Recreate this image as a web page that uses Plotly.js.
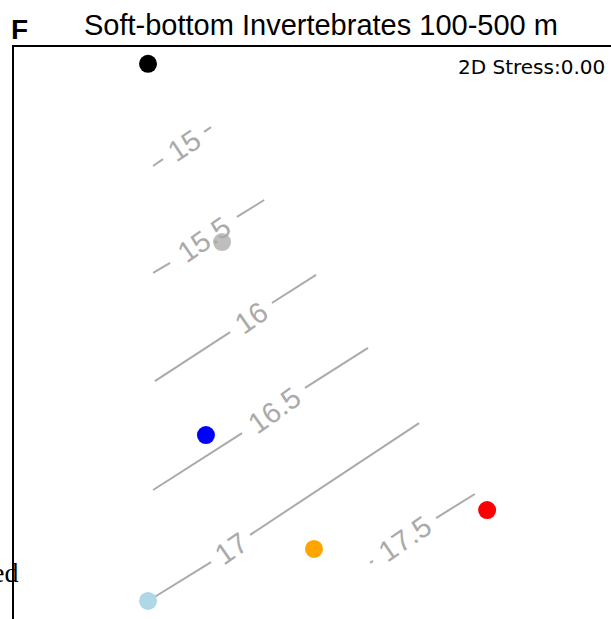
<!DOCTYPE html>
<html>
<head>
<meta charset="utf-8">
<script src="https://cdn.plot.ly/plotly-3.0.1.min.js"></script>
<style>html,body{margin:0;padding:0;background:#fff;}#chart{width:611px;height:619px;}</style>
</head>
<body>
<div id="chart"></div>
<script>
// Site scores (NMDS1, NMDS2) and colours
const siteColors = ['black', '#bebebe', 'blue', '#add8e6', '#ffa500', 'red'];
const siteX = [-0.551, -0.303, -0.357, -0.551, 0.005, 0.585];
const siteY = [0.941, 0.318, -0.357, -0.937, -0.755, -0.619];

// Fitted surface contours (ordisurf), each drawn as start -> gap -> end
const contourLevels = ['15', '15.5', '16', '16.5', '17', '17.5'];
const startX = [-0.534, -0.534, -0.528, -0.534, -0.551, 0.193];
const startY = [0.584, 0.210, -0.168, -0.549, -0.937, -0.804];
const gapStartX = [-0.501, -0.477, -0.276, -0.236, -0.340, 0.203];
const gapStartY = [0.608, 0.245, 0.003, -0.350, -0.801, -0.797];
const gapEndX = [-0.363, -0.253, -0.136, -0.025, -0.209, 0.414];
const gapEndY = [0.703, 0.406, 0.105, -0.192, -0.706, -0.647];
const endX = [-0.340, -0.162, 0.012, 0.186, 0.357, 0.544];
const endY = [0.720, 0.465, 0.203, -0.052, -0.315, -0.563];

const titleText = 'Soft-bottom Invertebrates 100-500 m';
const stressText = '2D Stress:0.00';

const lineColor = '#aaaaaa';
const xr = [-1, 1], yr = [-1, 1];
const W = 611, H = 619;
const m = {l: 14, r: 0, t: 47, b: 0};

const traces = [];
const cx = [], cy = [];
for (let i = 0; i < contourLevels.length; i++) {
  cx.push(startX[i], gapStartX[i], null, gapEndX[i], endX[i], null);
  cy.push(startY[i], gapStartY[i], null, gapEndY[i], endY[i], null);
}
traces.push({type: 'scatter', mode: 'lines', x: cx, y: cy,
  line: {color: lineColor, width: 2}, hoverinfo: 'skip', showlegend: false});
traces.push({type: 'scatter', mode: 'markers', x: siteX, y: siteY,
  marker: {color: siteColors, size: 18}, showlegend: false});

const pw = W - m.l - m.r, ph = H - m.t - m.b;
const annotations = contourLevels.map((lab, i) => {
  const dx = (gapEndX[i] - gapStartX[i]) / (xr[1] - xr[0]) * pw;
  const dy = (gapEndY[i] - gapStartY[i]) / (yr[1] - yr[0]) * ph;
  const ang = -Math.atan2(dy, dx) * 180 / Math.PI;
  return {x: (gapStartX[i] + gapEndX[i]) / 2, y: (gapStartY[i] + gapEndY[i]) / 2,
    xref: 'x', yref: 'y', text: lab, showarrow: false, textangle: ang,
    font: {family: 'Liberation Sans, Arial, sans-serif', size: 29, color: lineColor},
    xanchor: 'center', yanchor: 'middle'};
});
annotations.push({xref: 'paper', yref: 'paper', x: (321 - m.l) / pw, y: (H - 25) / ph,
  text: titleText, showarrow: false, xanchor: 'center', yanchor: 'middle',
  font: {family: 'Liberation Sans, Arial, sans-serif', size: 29, color: 'black'}});
annotations.push({xref: 'paper', yref: 'paper', x: (19 - m.l) / pw, y: (H - 29) / ph,
  text: '<b>F</b>', showarrow: false, xanchor: 'center', yanchor: 'middle',
  font: {family: 'Liberation Sans, Arial, sans-serif', size: 28, color: 'black'}});
annotations.push({xref: 'paper', yref: 'paper', x: (607 - m.l) / pw, y: (H - 67) / ph,
  text: stressText, showarrow: false, xanchor: 'right', yanchor: 'middle',
  font: {family: 'DejaVu Sans, sans-serif', size: 20, color: 'black'}});
annotations.push({xref: 'paper', yref: 'paper', x: (20 - m.l) / pw, y: (H - 572) / ph,
  text: 'ed', showarrow: false, xanchor: 'right', yanchor: 'middle',
  font: {family: 'Liberation Serif, Times New Roman, serif', size: 28, color: 'black'}});

const layout = {
  width: W, height: H, margin: m, paper_bgcolor: 'white', plot_bgcolor: 'white',
  showlegend: false,
  xaxis: {range: xr, showgrid: false, zeroline: false, showticklabels: false, ticks: '',
    showline: true, side: 'top', linecolor: 'black', linewidth: 2},
  yaxis: {range: yr, showgrid: false, zeroline: false, showticklabels: false, ticks: '',
    showline: true, linecolor: 'black', linewidth: 2},
  annotations: annotations
};
Plotly.newPlot('chart', traces, layout, {displayModeBar: false, staticPlot: true});
</script>
</body>
</html>
